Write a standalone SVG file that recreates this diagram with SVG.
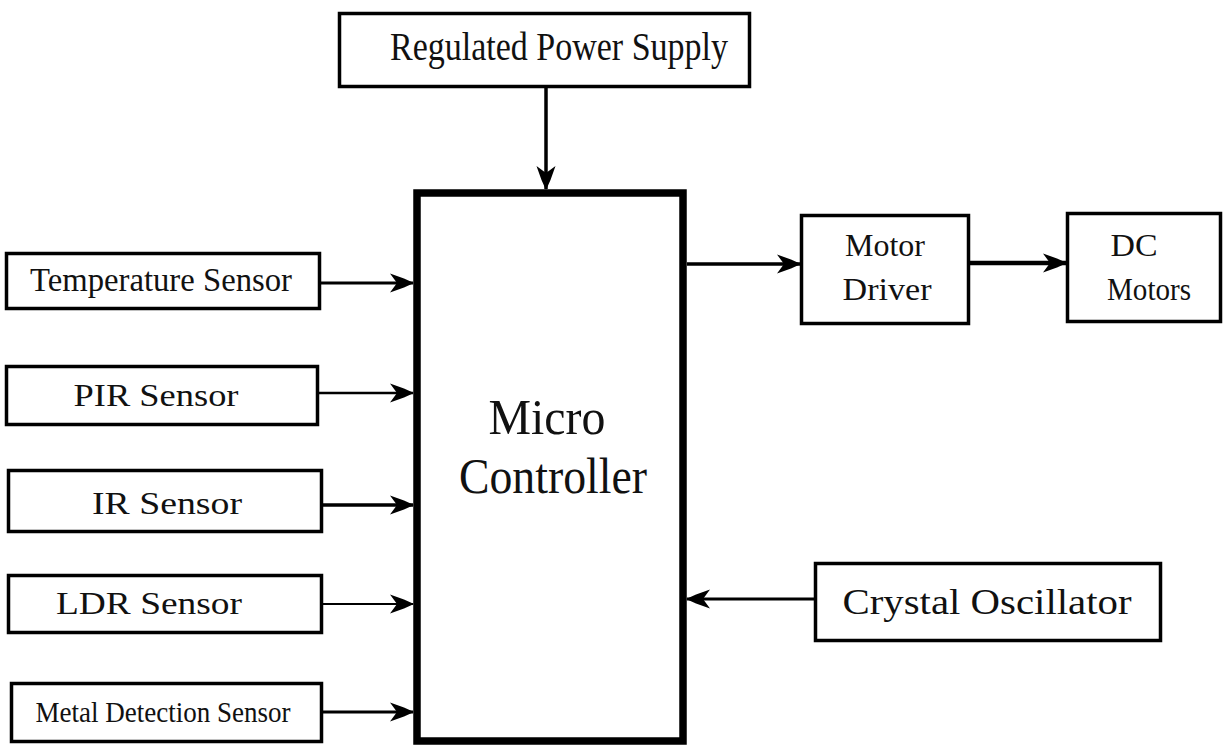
<svg xmlns="http://www.w3.org/2000/svg" width="1225" height="745" viewBox="0 0 1225 745">
<style>
  .box { fill: #fff; stroke: #000; stroke-width: 3.5; }
  .t { font-family: "Liberation Serif", "DejaVu Serif", serif; fill: #111; text-anchor: middle; }
  .c { fill: none; stroke: #000; }
</style>
<defs>
  <marker id="ah" markerUnits="userSpaceOnUse" markerWidth="34" markerHeight="24" viewBox="-30 -12 34 24" refX="0" refY="0" orient="auto" overflow="visible">
    <path d="M1,0 L-9,-4.5 L-23,-9.5 L-16,0 L-23,9.5 L-9,4.5 Z" fill="#000"/>
  </marker>
</defs>
<rect width="1225" height="745" fill="#fff"/>

<g id="connectors">
  <line class="c" x1="546" y1="87" x2="546" y2="189" stroke-width="3.5" marker-end="url(#ah)"/>
  <line class="c" x1="320" y1="283" x2="413" y2="283" stroke-width="3" marker-end="url(#ah)"/>
  <line class="c" x1="318" y1="393" x2="413" y2="393" stroke-width="2.5" marker-end="url(#ah)"/>
  <line class="c" x1="322" y1="505" x2="413" y2="505" stroke-width="3.5" marker-end="url(#ah)"/>
  <line class="c" x1="322" y1="604" x2="413" y2="604" stroke-width="1.8" marker-end="url(#ah)"/>
  <line class="c" x1="322" y1="712" x2="413" y2="712" stroke-width="3" marker-end="url(#ah)"/>
  <line class="c" x1="687" y1="264" x2="800" y2="264" stroke-width="3.5" marker-end="url(#ah)"/>
  <line class="c" x1="970" y1="263" x2="1066" y2="263" stroke-width="4.5" marker-end="url(#ah)"/>
  <line class="c" x1="814" y1="599" x2="687" y2="599" stroke-width="3" marker-end="url(#ah)"/>
</g>

<g id="power">
  <rect class="box" x="339.5" y="13.5" width="410" height="73"/>
  <text class="t" x="559" y="60" font-size="39" textLength="338" lengthAdjust="spacingAndGlyphs">Regulated Power Supply</text>
</g>

<g id="micro">
  <rect x="417" y="193" width="266" height="548" fill="#fff" stroke="#000" stroke-width="7.5"/>
  <text class="t" x="547" y="434" font-size="50" textLength="117" lengthAdjust="spacingAndGlyphs">Micro</text>
  <text class="t" x="553" y="493" font-size="50" textLength="188" lengthAdjust="spacingAndGlyphs">Controller</text>
</g>

<g id="temp">
  <rect class="box" x="6.5" y="253.5" width="313" height="55"/>
  <text class="t" x="161" y="291" font-size="34" textLength="262" lengthAdjust="spacingAndGlyphs">Temperature Sensor</text>
</g>

<g id="pir">
  <rect class="box" x="6.5" y="366.5" width="311" height="58"/>
  <text class="t" x="156" y="406" font-size="31" textLength="165" lengthAdjust="spacingAndGlyphs">PIR Sensor</text>
</g>

<g id="ir">
  <rect class="box" x="8.5" y="470.5" width="313" height="61"/>
  <text class="t" x="167" y="514" font-size="32" textLength="150" lengthAdjust="spacingAndGlyphs">IR Sensor</text>
</g>

<g id="ldr">
  <rect class="box" x="8.5" y="575.5" width="313" height="57"/>
  <text class="t" x="149" y="614" font-size="31" textLength="186" lengthAdjust="spacingAndGlyphs">LDR Sensor</text>
</g>

<g id="metal">
  <rect class="box" x="11.5" y="683.5" width="310" height="58"/>
  <text class="t" x="163" y="722" font-size="30" textLength="255" lengthAdjust="spacingAndGlyphs">Metal Detection Sensor</text>
</g>

<g id="driver">
  <rect class="box" x="801.5" y="215.5" width="167" height="108"/>
  <text class="t" x="885" y="256" font-size="32" textLength="80" lengthAdjust="spacingAndGlyphs">Motor</text>
  <text class="t" x="887" y="300" font-size="32" textLength="89" lengthAdjust="spacingAndGlyphs">Driver</text>
</g>

<g id="dc">
  <rect class="box" x="1067.5" y="213.5" width="153" height="108"/>
  <text class="t" x="1134" y="256" font-size="32" textLength="47" lengthAdjust="spacingAndGlyphs">DC</text>
  <text class="t" x="1149" y="300" font-size="32" textLength="84" lengthAdjust="spacingAndGlyphs">Motors</text>
</g>

<g id="crystal">
  <rect class="box" x="815.5" y="563.5" width="345" height="77"/>
  <text class="t" x="987" y="614" font-size="35" textLength="289" lengthAdjust="spacingAndGlyphs">Crystal Oscillator</text>
</g>
</svg>
